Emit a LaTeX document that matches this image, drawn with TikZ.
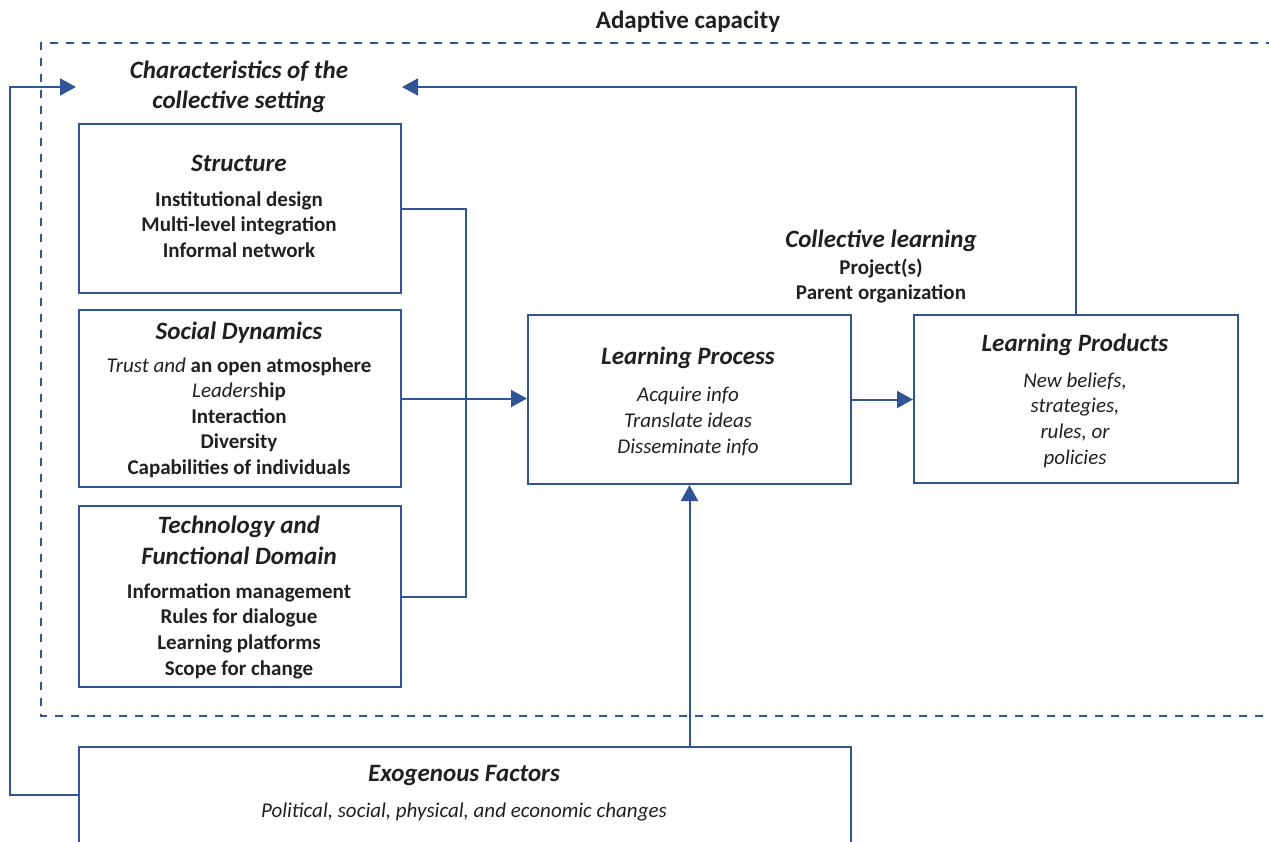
\documentclass[tikz,border=0pt]{standalone}
\usepackage{fontspec}
\setmainfont{Carlito}
\usetikzlibrary{arrows.meta}
\definecolor{lb}{HTML}{2F5597}
\definecolor{tx}{HTML}{231F20}
\begin{document}
\begin{tikzpicture}[x=1pt,y=-1pt,
  box/.style={draw=lb, line width=2pt, anchor=north west, inner sep=0pt},
  conn/.style={draw=lb, line width=2pt},
  arr/.style={conn, -{Triangle[length=16pt,width=17pt]}},
  ttl/.style={text=tx, font=\fontsize{25}{30}\selectfont\bfseries\itshape, align=center, inner sep=0pt},
  bd/.style={text=tx, font=\fontsize{21}{25.6}\selectfont\bfseries, align=center, inner sep=0pt},
  it/.style={text=tx, font=\fontsize{21}{25.6}\selectfont\itshape, align=center, inner sep=0pt}]
\useasboundingbox (0,0) rectangle (1269,841);
% adaptive capacity frame
\draw[lb, line width=2pt, dash pattern=on 8pt off 8pt] (1290,43) -- (41,43) -- (41,716) -- (1290,716);
\node[bd, font=\fontsize{25}{30}\selectfont\bfseries] (adapt) at (688,22) {Adaptive capacity};
\node[ttl] (charac) at (239,87) {Characteristics of the\\collective setting};
% boxes
\node[box, minimum width=322pt, minimum height=169pt] (struct) at (78,123) {};
\node[box, minimum width=322pt, minimum height=177pt] (social) at (78,309) {};
\node[box, minimum width=322pt, minimum height=181pt] (tech) at (78,505) {};
\node[box, minimum width=323pt, minimum height=169pt] (lp) at (527,314) {};
\node[box, minimum width=324pt, minimum height=168pt] (prod) at (913,314) {};
\node[box, minimum width=772pt, minimum height=140pt] (exo) at (78,746) {};
% texts
\node[ttl] (structT) at (239,163) {Structure};
\node[bd] (structB) at (239,224.5) {Institutional design\\Multi-level integration\\Informal network};
\node[ttl] (socialT) at (239,333) {Social Dynamics};
\node[bd] (socialB) at (239,417.5) {\textmd{\itshape Trust and} an open atmosphere\\\textmd{\itshape Leaders}hip\\Interaction\\Diversity\\Capabilities of individuals};
\node[ttl, font=\fontsize{25}{31}\selectfont\bfseries\itshape] (techT) at (239,540) {Technology and\\Functional Domain};
\node[bd] (techB) at (239,631) {Information management\\Rules for dialogue\\Learning platforms\\Scope for change};
\node[ttl] (lpT) at (688,358) {Learning Process};
\node[it] (lpB) at (688,421.5) {Acquire info\\Translate ideas\\Disseminate info};
\node[ttl] (prodT) at (1075,345) {Learning Products};
\node[it] (prodB) at (1075,420) {New beliefs,\\strategies,\\rules, or\\policies};
\node[ttl] (collT) at (881,241) {Collective learning};
\node[bd] (collB) at (881,281) {Project(s)\\Parent organization};
\node[ttl] (exoT) at (464,775) {Exogenous Factors};
\node[it] (exoB) at (464,812) {Political, social, physical, and economic changes};
% connectors
\coordinate (toChar) at (402,87);
\coordinate (toCharL) at (76,87);
\draw[conn] (struct.east) -- ++(64,0) |- (tech.east);
\draw[arr] (social.east) -- (social.east -| lp.west);
\draw[arr] (lp.east) -- (lp.east -| prod.west);
\draw[arr] (prod.north) |- (toChar);
\draw[arr] (exo.north -| lp.south) -- (lp.south);
\draw[arr] ([yshift=-49pt]exo.north west) -| (10,87) -- (toCharL);
\end{tikzpicture}
\end{document}
